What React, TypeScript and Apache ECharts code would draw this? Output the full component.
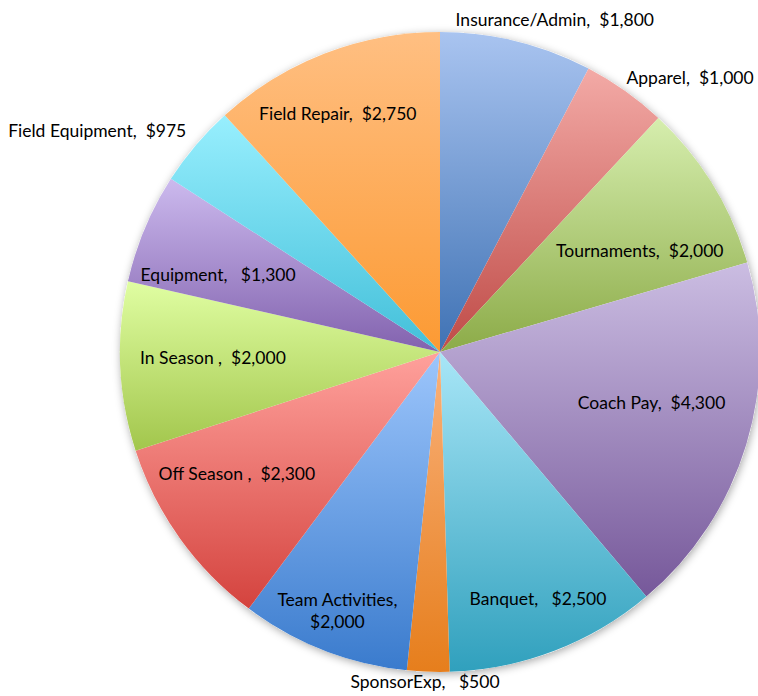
import React, { useEffect, useRef } from "react";
import * as echarts from "echarts";

const categories = [
  "Insurance/Admin",
  "Apparel",
  "Tournaments",
  "Coach Pay",
  "Banquet",
  "SponsorExp",
  "Team Activities",
  "Off Season",
  "In Season",
  "Equipment",
  "Field Equipment",
  "Field Repair",
];
const values = [1800, 1000, 2000, 4300, 2500, 500, 2000, 2300, 2000, 1300, 975, 2750];

// label separator between name and value, as shown in the original
const labelSeparators = [",  ", ",  ", ",  ", ",  ", ",   ", ",   ", ",\n", " ,  ", " ,  ", ",   ", ",  ", ",  "];

// gradient colours (top -> bottom) per slice
const colorsTop = [
  "#a9c4f0", "#f3aaa6", "#d6eeae", "#cbbde2", "#a8e6f7", "#fab27c",
  "#9dc6fc", "#ffa19c", "#e0fea2", "#ccbaee", "#98effe", "#ffbf82",
];
const colorsBottom = [
  "#3f72b4", "#bf4b47", "#8cab48", "#76589a", "#30a0bd", "#e67e1c",
  "#3a7bcd", "#d4433e", "#a2c64c", "#8262ae", "#42bfd9", "#fc9a33",
];

// label placement: radius fraction and angular shift (deg) from slice mid-angle
const labelRadius = [1.1, 1.16, 0.7, 0.68, 0.83, 1.03, 0.87, 0.74, 0.71, 0.735, 1.275, 0.81];
const labelShift = [5.2, 7, 4.7, -3.3, -0.7, 0.5, 0.3, 4.7, 1.1, -3.4, -7.4, -2.1];

const CX = 440;
const CY = 352;
const R = 320;

export default function App() {
  const ref = useRef<HTMLDivElement>(null);

  useEffect(() => {
    if (!ref.current) return;
    const chart = echarts.init(ref.current, null, { renderer: "svg" });
    const total = values.reduce((a, b) => a + b, 0);
    const mids: number[] = [];
    let acc = 0;
    values.forEach((v) => {
      mids.push(((acc + v / 2) / total) * 360);
      acc += v;
    });

    const data = categories.map((name, i) => ({
      name,
      value: values[i],
      itemStyle: {
        color: new echarts.graphic.LinearGradient(0, 0, 0, 1, [
          { offset: 0, color: colorsTop[i] },
          { offset: 1, color: colorsBottom[i] },
        ]),
      },
    }));

    chart.setOption({
      animation: false,
      backgroundColor: "#ffffff",
      series: [
        {
          type: "pie",
          silent: true,
          center: [CX, CY],
          radius: R,
          label: { show: false },
          labelLine: { show: false },
          itemStyle: {
            color: "#ffffff",
            shadowBlur: 8,
            shadowColor: "rgba(0,0,0,0.35)",
            shadowOffsetX: 1,
            shadowOffsetY: 2,
          },
          data: [{ value: 1, name: "bg" }],
          z: 1,
        },
        {
          type: "pie",
          center: [CX, CY],
          radius: R,
          startAngle: 90,
          clockwise: true,
          z: 2,
          label: {
            show: true,
            position: "inside",
            color: "#000000",
            fontFamily: "Lato",
            fontSize: 17.5,
            lineHeight: 22,
            align: "center",
            formatter: (p: any) =>
              `${p.name}${labelSeparators[p.dataIndex]}$${(p.value as number).toLocaleString("en-US")}`,
          },
          labelLine: { show: false },
          labelLayout: (p: any) => {
            const i = p.dataIndex;
            const a = ((mids[i] + labelShift[i]) * Math.PI) / 180;
            const r = labelRadius[i] * R;
            return {
              x: CX + Math.sin(a) * r,
              y: CY - Math.cos(a) * r,
              align: "center",
              verticalAlign: "middle",
            };
          },
          data,
        },
      ],
    });
    return () => chart.dispose();
  }, []);

  return (
    <div
      ref={ref}
      style={{ position: "fixed", left: 0, top: 0, width: 758, height: 696 }}
    />
  );
}
